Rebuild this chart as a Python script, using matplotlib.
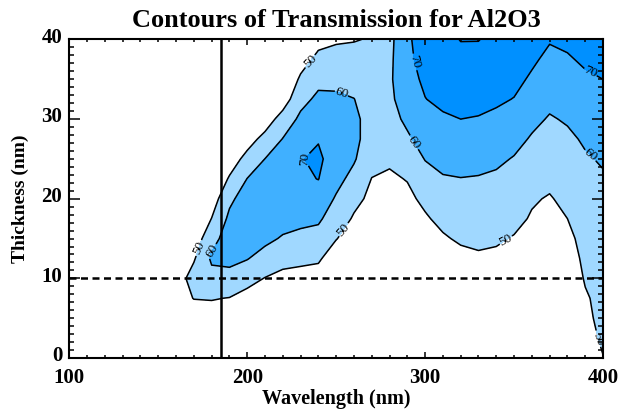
import numpy as np
import matplotlib
matplotlib.use('Agg')
import matplotlib.pyplot as plt
from matplotlib.ticker import MultipleLocator
from matplotlib.transforms import ScaledTranslation

# Grid the transmission was computed on
wavelength = [160, 170, 180, 190, 200, 210, 220, 230, 240, 250, 260, 270, 280,
              290, 300, 310, 320, 330, 340, 350, 360, 370, 380, 390, 400]
thickness = [0, 2.5, 5, 7.5, 10, 12.5, 15, 17.5, 20, 22.5, 25, 27.5, 30,
             32.5, 35, 37.5, 40]

# Transmission (%), one column per wavelength (thickness 0 -> 40)
transmission = [
    [30, 33, 36, 47, 45, 42, 40, 38, 36, 34, 32, 30, 28, 27, 26, 25, 24],              # 160
    [38, 42, 46, 50.2, 54, 49, 44, 40, 37, 35, 33, 31, 30, 29, 28, 27, 26],            # 170
    [36, 41, 46, 50.5, 57, 61.5, 57, 50.2, 45, 41, 38, 36, 34, 32, 31, 30, 29],        # 180
    [36, 40, 45, 49.7, 57.5, 62, 64, 62, 58, 51, 45, 41, 38, 36, 34, 33, 32],          # 190
    [35, 39, 43, 47, 53, 60.5, 64.5, 66, 64.5, 60.2, 53, 46, 41, 38, 36, 34, 33],      # 200
    [34, 37, 41, 45, 49.7, 56, 62.5, 66, 67.5, 65, 60.1, 53, 45, 40, 37, 35, 34],      # 210
    [33, 36, 40, 44, 47.5, 53, 59, 64, 68, 69, 66, 60.3, 54, 45, 41, 38, 36],          # 220
    [32, 35, 39, 43, 47, 52, 57.5, 62.5, 66.5, 68.5, 69.6, 67, 62, 57, 51.5, 46, 42],  # 230
    [31, 34, 38, 42, 47, 51, 56.5, 61.5, 66, 70.2, 71.5, 69.5, 66, 62, 57.5, 52.5, 47],  # 240
    [30, 33, 36, 39, 42, 46, 50.3, 55, 59, 63, 66, 67, 66, 62, 57, 53, 49],            # 250
    [29, 32, 35, 38, 41, 44, 46.5, 49, 52.5, 57, 61, 62.5, 62.5, 60.2, 56, 52, 49.7],  # 260
    [28, 31, 34, 37, 40, 42, 44, 46, 48, 49.8, 53, 55.5, 55.5, 55, 54, 52.5, 50.4],    # 270
    [28, 31, 34, 37, 40, 42, 44, 46, 47.5, 49, 51, 54, 56.5, 58, 58.5, 57.8, 57],      # 280
    [29, 32, 35, 38, 41, 43, 45, 47, 48.5, 50.3, 54, 58.5, 62, 65, 67, 68.5, 69],      # 290
    [30, 33, 36, 40, 43, 45.5, 47.5, 49.2, 51.5, 56, 60.4, 64, 67, 69.8, 71.5, 72.5, 73],  # 300
    [31, 34, 38, 41.5, 44.5, 47, 49.2, 51.8, 55.5, 59.3, 62.5, 65.5, 68.8, 72, 74.5, 76, 77],  # 310
    [32, 35, 39, 42.5, 45.5, 48, 51, 54, 57, 59.8, 63, 66.5, 70, 73, 75.5, 77.5, 80.3],  # 320
    [33, 36, 40, 43.5, 46.5, 49, 51.5, 54, 56.8, 59.5, 62.5, 66, 69.5, 72.5, 75, 77, 80.3],  # 330
    [33, 36, 40, 43, 46, 48.5, 51, 53.5, 56, 58.7, 61.5, 64.5, 68, 71.5, 74, 76, 77],  # 340
    [33, 36, 39.5, 42.5, 45, 47.5, 49.5, 52, 54.5, 57, 59.5, 62.5, 66, 69.7, 72.5, 74.5, 75.5],  # 350
    [33, 36, 39, 41.5, 44, 46, 47.8, 49.3, 50.8, 54, 56.5, 59.2, 62, 65, 68.7, 71.5, 73],  # 360
    [33, 36, 38.5, 41, 43, 45, 46.5, 48, 49.4, 51.8, 54.5, 57, 59.3, 62, 64.8, 67.8, 70.7],  # 370
    [30, 33, 36, 39, 42, 44.5, 47, 50, 52, 54, 56.3, 58.5, 60.8, 63.5, 66, 69, 72],    # 380
    [38, 45, 47.5, 48.7, 51, 52.5, 54, 55.3, 56.5, 57.8, 59.2, 61, 63.3, 65.5, 68.5, 71.5, 74],  # 390
    [49.6, 52, 53, 53.5, 54.5, 55.3, 56.1, 57, 58, 59.2, 60.8, 62.8, 65, 67.5, 70, 72.5, 75],  # 400
]

levels = [50, 60, 70, 80]
fill_colors = ['#a0d8ff', '#40b0ff', '#0090ff', '#0090ff']

# reference lines
cutoff_wavelength = 185
min_thickness = 10

# where the contour labels sit (wavelength, thickness)
label_spots = [(172.9, 13.8), (234.5, 37.5), (254.2, 16.1), (345.8, 14.6), (395.3, 2.2),
               (180.4, 13.4), (253.3, 33.5), (293.4, 27.0), (392.5, 25.3),
               (231.7, 24.9), (293.4, 37.1), (392.5, 35.6)]

plt.rcParams['font.family'] = ['Liberation Serif', 'DejaVu Serif']
plt.rcParams['font.weight'] = 'bold'

fig = plt.figure(figsize=(6.2, 4.13), dpi=100)
ax = fig.add_axes([0.1118, 0.1332, 0.8608, 0.7712])

Z = np.array(transmission).T
ax.contourf(wavelength, thickness, Z, levels=levels + [100], colors=fill_colors)
cs = ax.contour(wavelength, thickness, Z, levels=levels, colors='black', linewidths=1.1)
lbls = ax.clabel(cs, levels=[50, 60, 70], fmt='%d', fontsize=9.5, inline=True,
                 inline_spacing=2, manual=label_spots, colors='black')
for t in lbls:
    t.set_fontweight('normal')

ax.axvline(cutoff_wavelength, color='black', lw=1.8)
ax.axhline(min_thickness, color='black', lw=1.8, ls=(0, (2.8, 1.8)))

ax.set_xlim(100, 400)
ax.set_ylim(0, 40)
ax.set_xticks([100, 200, 300, 400])
ax.set_yticks([0, 10, 20, 30, 40])
ax.xaxis.set_minor_locator(MultipleLocator(10))
ax.yaxis.set_minor_locator(MultipleLocator(1))
ax.tick_params(which='both', direction='in', top=True, right=True, width=1.1,
               labelsize=15)
ax.tick_params(axis='x', which='major', length=4.6, pad=7)
ax.tick_params(axis='x', which='minor', length=2.3)
ax.tick_params(axis='y', which='major', length=7.7, pad=5)
ax.tick_params(axis='y', which='minor', length=3.8)
for s in ax.spines.values():
    s.set_linewidth(1.5)

# IDL puts the y tick numbers a little above their ticks
nudge = ScaledTranslation(0, 3 / 72, fig.dpi_scale_trans)
for lab in ax.get_yticklabels():
    lab.set_transform(lab.get_transform() + nudge)

ax.set_xlabel('Wavelength (nm)', fontsize=14.5, fontweight='bold', labelpad=1)
ax.set_ylabel('Thickness (nm)', fontsize=14, fontweight='bold', labelpad=9)
ax.set_title('Contours of Transmission for Al2O3', fontsize=19, fontweight='bold', pad=9)

plt.savefig('out.png', dpi=100)
